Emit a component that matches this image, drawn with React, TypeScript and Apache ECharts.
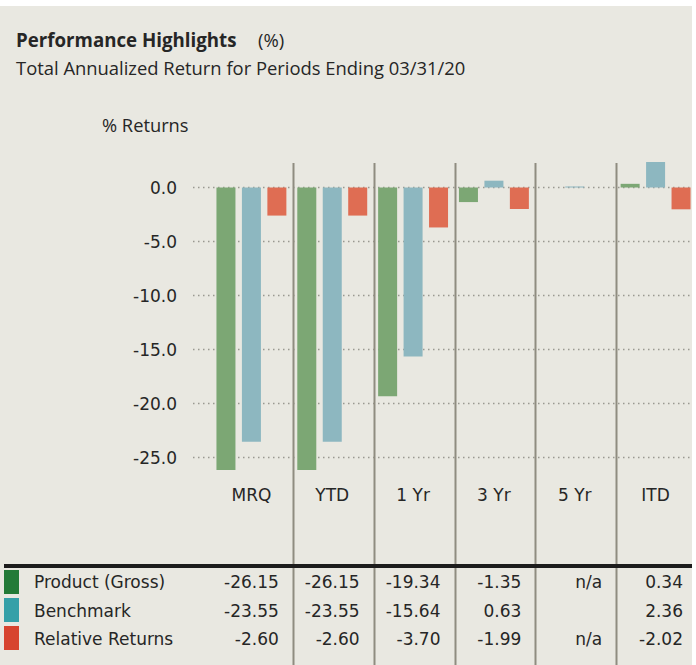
import React, { useEffect, useRef } from "react";
import * as echarts from "echarts";

const categories = ["MRQ", "YTD", "1 Yr", "3 Yr", "5 Yr", "ITD"];
const seriesNames = ["Product (Gross)", "Benchmark", "Relative Returns"];
const productValues = [-26.15, -26.15, -19.34, -1.35, null, 0.34];
const benchmarkValues = [-23.55, -23.55, -15.64, 0.63, 0, 2.36];
const relativeValues = [-2.6, -2.6, -3.7, -1.99, null, -2.02];
const productTable = ["-26.15", "-26.15", "-19.34", "-1.35", "n/a", "0.34"];
const benchmarkTable = ["-23.55", "-23.55", "-15.64", "0.63", "", "2.36"];
const relativeTable = ["-2.60", "-2.60", "-3.70", "-1.99", "n/a", "-2.02"];
const barColors = ["#7ca774", "#8db7c0", "#df6d53"];
const swatchColors = ["#237a37", "#35a0a8", "#d7442f"];

const W = 696;
const H = 665;
const TEXT = "#262626";
const FONT = "DejaVu Sans";
const TFONT = "Open Sans";

export default function App() {
  const ref = useRef<HTMLDivElement>(null);
  useEffect(() => {
    document.body.style.margin = "0";
    if (!ref.current) return;
    const chart = echarts.init(ref.current, null, { renderer: "svg" });

    const gridLeft = 211;
    const colW = (W - gridLeft) / categories.length;
    const unit = 10.8;
    const zeroY = 187.5;
    const yMax = 2.5;
    const yMin = -27;

    const graphics: any[] = [];
    for (let k = 1; k < categories.length; k++) {
      const x = Math.round(gridLeft + k * colW) + 1.5;
      graphics.push({
        type: "line",
        shape: { x1: x, y1: 163, x2: x, y2: H },
        style: { stroke: "#8f8c80", lineWidth: 2 },
        z: 1,
      });
    }
    const txt = (text: string, x: number, y: number, o: any = {}) => ({
      type: "text",
      x,
      y,
      z: 10,
      style: {
        text,
        fill: TEXT,
        fontSize: o.size || 17,
        fontFamily: o.family || FONT,
        fontWeight: o.weight || "normal",
        align: o.align || "left",
        textAlign: o.align || "left",
        verticalAlign: "middle",
        textVerticalAlign: "middle",
      },
    });
    graphics.push(txt("Performance Highlights", 16, 39, { family: TFONT, weight: "bold", size: 18.7 }));
    graphics.push(txt("(%)", 258, 39, { family: TFONT, size: 18.5 }));
    graphics.push(txt("Total Annualized Return for Periods Ending 03/31/20", 16, 67, { family: TFONT, size: 18.4 }));
    graphics.push(txt("% Returns", 102, 124, { family: TFONT, size: 18.3 }));

    graphics.push({
      type: "rect",
      shape: { x: 4, y: 564, width: 688, height: 4 },
      style: { fill: "#1c1c1c" },
      z: 5,
    });
    const tables = [productTable, benchmarkTable, relativeTable];
    const rowY = [582, 610.5, 638.5];
    const swY = [570, 598, 626];
    for (let r = 0; r < 3; r++) {
      graphics.push({
        type: "rect",
        shape: { x: 4, y: swY[r], width: 15, height: 24 },
        style: { fill: swatchColors[r] },
        z: 5,
      });
      graphics.push(txt(seriesNames[r], 34, rowY[r]));
      for (let c = 0; c < categories.length; c++) {
        const right = gridLeft + (c + 1) * colW - 13;
        if (tables[r][c]) graphics.push(txt(tables[r][c], right, rowY[r], { align: "right" }));
      }
    }

    const mkSeries = (name: string, data: any[], color: string, extra: any = {}) => ({
      name,
      type: "bar",
      xAxisIndex: 1,
      yAxisIndex: 1,
      data,
      barWidth: 19,
      barGap: "34%",
      itemStyle: { color },
      z: 3,
      ...extra,
    });

    chart.setOption({
      animation: false,
      backgroundColor: "transparent",
      grid: [
        { left: 193, right: 4, top: zeroY, height: 25 * unit },
        { left: gridLeft, right: 0, top: zeroY - yMax * unit, height: (yMax - yMin) * unit },
      ],
      xAxis: [
        { gridIndex: 0, type: "value", show: false },
        {
          gridIndex: 1,
          type: "category",
          data: categories,
          axisLine: { show: false },
          axisTick: { show: false },
          axisLabel: { color: TEXT, fontSize: 17, fontFamily: FONT, margin: 7 },
        },
      ],
      yAxis: [
        {
          gridIndex: 0,
          type: "value",
          min: -25,
          max: 0,
          interval: 5,
          axisLine: { show: false },
          axisTick: { show: false },
          axisLabel: {
            color: TEXT,
            fontSize: 17,
            fontFamily: FONT,
            margin: 16,
            formatter: (v: number) => v.toFixed(1),
          },
          splitLine: { show: true, lineStyle: { color: "#9a9891", width: 1.3, type: [1.5, 3.5] } },
        },
        { gridIndex: 1, type: "value", min: yMin, max: yMax, show: false, splitLine: { show: false } },
      ],
      series: [
        mkSeries(seriesNames[0], productValues, barColors[0]),
        mkSeries(seriesNames[1], benchmarkValues, barColors[1], { barMinHeight: 1 }),
        mkSeries(seriesNames[2], relativeValues, barColors[2]),
      ],
      graphic: graphics,
    });
    return () => chart.dispose();
  }, []);
  return (
    <div
      ref={ref}
      style={{
        width: W,
        height: H,
        background: "#e9e8e1",
        boxShadow: "inset -4px 6px 0 #ffffff",
      }}
    />
  );
}
